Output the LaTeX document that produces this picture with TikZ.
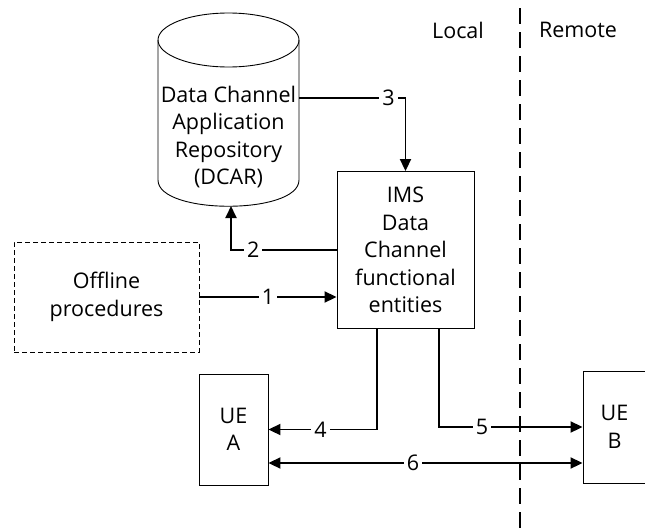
\documentclass[tikz,border=0pt]{standalone}
\usepackage{fontspec}
\setmainfont{Open Sans}
\usetikzlibrary{arrows.meta}
\tikzstyle{box} = [draw, line width=0.9pt, align=center, inner sep=0pt]
\tikzstyle{line} = [draw, line width=1.9pt, -{Triangle[length=12pt,width=11pt]}]
\tikzstyle{both} = [draw, line width=1.9pt, {Triangle[length=12pt,width=11pt]}-{Triangle[length=12pt,width=11pt]}]
\tikzstyle{num} = [fill=white, inner sep=3pt]
\tikzstyle{divider} = [draw, line width=1.9pt, dash pattern=on 16pt off 8pt]

\begin{document}
\begin{tikzpicture}[x=1pt, y=-1pt, every node/.style={font=\fontsize{21.5}{27.5}\selectfont}]
		            \useasboundingbox (0,0) rectangle (645,530);
		                % repository cylinder
		                \draw [line width=0.9pt] (228.5,40) ellipse [x radius=70.5, y radius=27];
		                \draw [line width=0.9pt] (158,40) -- (158,180) .. controls (158,215) and (299,215) .. (299,180) -- (299,40);
		                \coordinate (dcarR) at (299,98);
		                \coordinate (dcarB) at (231,206);
		                \node [align=center] (dcar) at (228.5,137) {Data Channel\\Application\\Repository\\(DCAR)};
		                % boxes
		                \node [box, minimum width=137pt, minimum height=157pt] (ims) at (405.5,250) {IMS\\Data\\Channel\\functional\\entities};
		                \node [box, dashed, dash pattern=on 5pt off 3pt, minimum width=185pt, minimum height=110pt] (off) at (106.5,297) {Offline\\procedures};
		                \node [box, minimum width=69pt, minimum height=111pt] (uea) at (233.5,429.5) {UE\\A};
		                \node [box, minimum width=63pt, minimum height=112pt] (ueb) at (614.5,427) {UE\\B};
		                \node (local) at (458,30) {Local};
		                \node (remote) at (578,30) {Remote};
		                \path [divider] (520,8) -- (520,530);
		                % connectors
		                \coordinate (ueaLow) at ([yshift=-33.5pt]uea.east);
		                \path [line] (off.east) -- node [num] {1} (ims.west |- off.east);
		                \path [line] (ims.west) -- node [num, pos=0.79] {2} (dcarB |- ims.west) -- (dcarB);
		                \path [line] (dcarR) -- node [num, pos=0.84] {3} (ims.north |- dcarR) -- (ims.north);
		                \path [line] ([xshift=-28.5pt]ims.south) |- node [num, pos=0.76] {4} (uea.east);
		                \path [line] ([xshift=33.5pt]ims.south) |- node [num, pos=0.65] {5} (ueb.west);
		                \path [both] (ueaLow) -- node [num, pos=0.46] {6} (ueb.west |- ueaLow);
		            \end{tikzpicture}
\end{document}
